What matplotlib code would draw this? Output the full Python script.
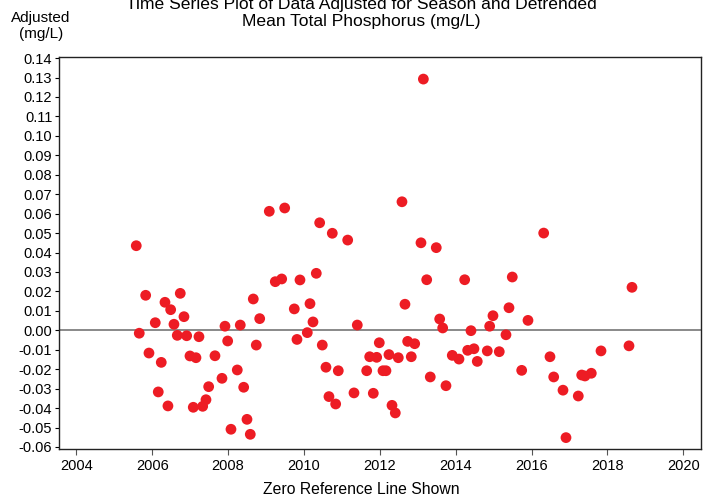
import matplotlib
matplotlib.use("Agg")
import matplotlib.pyplot as plt

plt.rcParams['font.family'] = ['Liberation Sans', 'DejaVu Sans']

# decimal year of each sample
years = [
    2005.579, 2005.658, 2005.827, 2005.914, 2006.080, 2006.159, 2006.238, 2006.336,
    2006.414, 2006.486, 2006.573, 2006.660, 2006.739, 2006.837, 2006.908, 2006.995,
    2007.082, 2007.153, 2007.232, 2007.330, 2007.417, 2007.488, 2007.654, 2007.839,
    2007.918, 2007.989, 2008.076, 2008.242, 2008.321, 2008.411, 2008.498, 2008.585,
    2008.664, 2008.743, 2008.833, 2009.086, 2009.244, 2009.413, 2009.492, 2009.745,
    2009.816, 2009.895, 2010.088, 2010.159, 2010.238, 2010.325, 2010.414, 2010.483,
    2010.580, 2010.659, 2010.747, 2010.836, 2010.905, 2011.153, 2011.319, 2011.406,
    2011.654, 2011.733, 2011.828, 2011.917, 2011.986, 2012.083, 2012.162, 2012.241,
    2012.321, 2012.408, 2012.487, 2012.584, 2012.663, 2012.734, 2012.829, 2012.919,
    2013.085, 2013.148, 2013.236, 2013.330, 2013.488, 2013.578, 2013.657, 2013.744,
    2013.910, 2014.087, 2014.237, 2014.316, 2014.403, 2014.482, 2014.569, 2014.833,
    2014.896, 2014.983, 2015.149, 2015.326, 2015.405, 2015.492, 2015.740, 2015.906,
    2016.320, 2016.486, 2016.584, 2016.829, 2016.908, 2017.232, 2017.322, 2017.409,
    2017.575, 2017.831, 2018.569, 2018.648,
]

# adjusted total phosphorus (mg/L)
adjusted = [
    0.0435, -0.0015, 0.0180, -0.0117, 0.0039, -0.0317, -0.0165, 0.0144,
    -0.0389, 0.0106, 0.0031, -0.0026, 0.0190, 0.0070, -0.0028, -0.0132,
    -0.0396, -0.0141, -0.0033, -0.0391, -0.0357, -0.0290, -0.0131, -0.0247,
    0.0021, -0.0055, -0.0509, -0.0204, 0.0027, -0.0293, -0.0458, -0.0535,
    0.0161, -0.0076, 0.0060, 0.0612, 0.0250, 0.0264, 0.0629, 0.0110,
    -0.0047, 0.0259, -0.0012, 0.0137, 0.0043, 0.0293, 0.0553, -0.0076,
    -0.0190, -0.0341, 0.0499, -0.0379, -0.0208, 0.0464, -0.0322, 0.0027,
    -0.0208, -0.0136, -0.0324, -0.0139, -0.0064, -0.0208, -0.0208, -0.0125,
    -0.0386, -0.0425, -0.0141, 0.0661, 0.0134, -0.0057, -0.0136, -0.0069,
    0.0450, 0.1292, 0.0260, -0.0240, 0.0425, 0.0058, 0.0012, -0.0285,
    -0.0129, -0.0148, 0.0260, -0.0103, -0.0002, -0.0095, -0.0160, -0.0106,
    0.0021, 0.0075, -0.0110, -0.0023, 0.0116, 0.0274, -0.0206, 0.0051,
    0.0500, -0.0136, -0.0240, -0.0308, -0.0552, -0.0338, -0.0230, -0.0235,
    -0.0221, -0.0106, -0.0080, 0.0221,
]

xticks = list(range(2004, 2021, 2))
yticks = [i / 100 for i in range(-6, 15)]

fig = plt.figure(figsize=(7.17, 4.97), dpi=100)
ax = fig.add_axes([0.0827, 0.096, 0.8946, 0.7887])

ax.axhline(0, color="#808080", lw=1.3, zorder=1)
ax.scatter(years, adjusted, s=60, color="#ED1C24", edgecolors="none", zorder=3)

ax.set_xlim(2003.55, 2020.46)
ax.set_ylim(-0.0612, 0.1404)
ax.set_xticks(xticks)
ax.set_yticks(yticks)
ax.set_yticklabels([f"{v:.2f}" for v in yticks])
ax.tick_params(axis="both", direction="out", labelsize=10.5, length=3, width=0.8, pad=2)
ax.tick_params(axis="x", length=4, color="#555555", pad=3)
for sp in ax.spines.values():
    sp.set_linewidth(1.0)
    sp.set_color("#222222")

fig.text(0.504, 0.016, "Zero Reference Line Shown", ha="center", va="center", fontsize=11.3)
fig.text(0.5035, 0.974, "Time Series Plot of Data Adjusted for Season and Detrended\nMean Total Phosphorus (mg/L)",
         ha="center", va="center", fontsize=12.6, linespacing=1.2)
fig.text(0.057, 0.947, "Adjusted\n(mg/L)", ha="center", va="center", fontsize=11, linespacing=1.2)

fig.savefig("out.png", dpi=100)
